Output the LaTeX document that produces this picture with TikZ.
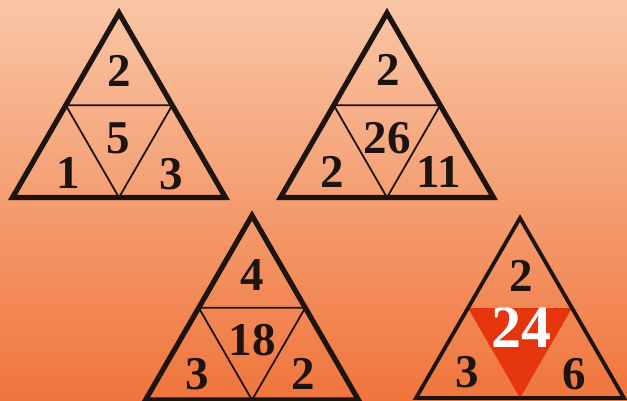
\documentclass[tikz,border=0pt]{standalone}
\usepackage{fontspec}
\setmainfont{Liberation Serif}
\usepackage{tikz}
\definecolor{peachtop}{RGB}{249,198,166}
\definecolor{peachbottom}{RGB}{240,117,60}
\definecolor{inkdark}{RGB}{30,20,15}
\definecolor{hotred}{RGB}{229,53,12}

\begin{document}
\begin{tikzpicture}[x=1pt, y=-1pt,
    outer/.style={draw=inkdark, line width=5.2pt},
    inner/.style={draw=inkdark, line width=1.8pt},
    num/.style={text=inkdark, inner sep=0pt, font=\fontsize{47}{47}\selectfont\bfseries}]
    \useasboundingbox (0,0) rectangle (627,400);
    \clip (0,0) rectangle (627,400);
    % background
    \shade[top color=peachtop, bottom color=peachbottom] (0,0) rectangle (627,400);

    % first puzzle
    \begin{scope}[shift={(119,13)}]
        \draw[outer] (0,0) -- (106.5,184.5) -- (-106.5,184.5) -- cycle;
        \draw[inner] (-53.25,92.25) -- (53.25,92.25) -- (0,184.5) -- cycle;
        \node[num] (p1top) at (0,58) {2};
        \node[num] (p1mid) at (-1,125) {5};
        \node[num] (p1left) at (-51,160) {1};
        \node[num] (p1right) at (52,161) {3};
    \end{scope}

    % second puzzle
    \begin{scope}[shift={(387,13)}]
        \draw[outer] (0,0) -- (106.5,184.5) -- (-106.5,184.5) -- cycle;
        \draw[inner] (-53.25,92.25) -- (53.25,92.25) -- (0,184.5) -- cycle;
        \node[num] (p2top) at (1,57) {2};
        \node[num] (p2mid) at (0,125) {26};
        \node[num] (p2left) at (-55,159) {2};
        \node[num] (p2right) at (52,159) {11};
    \end{scope}

    % third puzzle
    \begin{scope}[shift={(252,215.5)}]
        \draw[outer] (0,0) -- (106.5,184.5) -- (-106.5,184.5) -- cycle;
        \draw[inner] (-53.25,92.25) -- (53.25,92.25) -- (0,184.5) -- cycle;
        \node[num] (p3top) at (0,60) {4};
        \node[num] (p3mid) at (0,124.5) {18};
        \node[num] (p3left) at (-55,158.5) {3};
        \node[num] (p3right) at (51,158.5) {2};
    \end{scope}

    % answer puzzle
    \begin{scope}[shift={(520,218)}]
        \fill[hotred] (-52,90) -- (52,90) -- (0,180) -- cycle;
        \draw[outer, line width=3.8pt] (0,0) -- (104,180) -- (-104,180) -- cycle;
        \node[num] (p4top) at (1,58) {2};
        \node[num, text=white, font=\fontsize{60}{60}\selectfont\bfseries] (p4mid) at (1,110) {24};
        \node[num] (p4left) at (-53,154) {3};
        \node[num] (p4right) at (54,156) {6};
    \end{scope}
\end{tikzpicture}
\end{document}
